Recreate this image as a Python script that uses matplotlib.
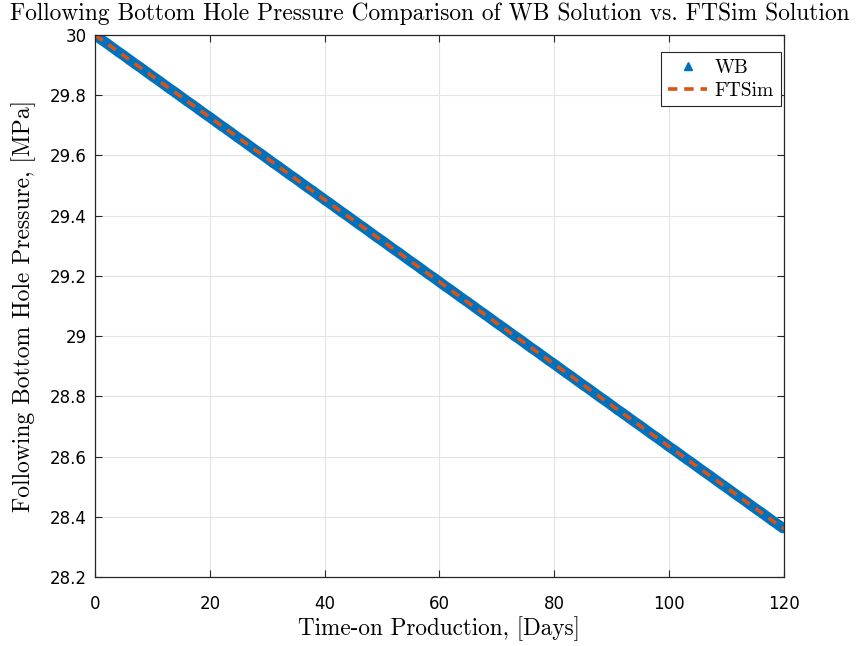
import numpy as np
import matplotlib.pyplot as plt

### Daten
days = list(range(0, 121))
p_wb = [30.000, 29.986, 29.973, 29.959, 29.945, 29.932, 29.918, 29.904, 29.891, 29.877,
        29.863, 29.850, 29.836, 29.822, 29.809, 29.795, 29.781, 29.768, 29.754, 29.740,
        29.727, 29.713, 29.699, 29.686, 29.672, 29.658, 29.645, 29.631, 29.617, 29.604,
        29.590, 29.576, 29.563, 29.549, 29.535, 29.522, 29.508, 29.494, 29.481, 29.467,
        29.453, 29.440, 29.426, 29.412, 29.399, 29.385, 29.371, 29.358, 29.344, 29.330,
        29.317, 29.303, 29.289, 29.276, 29.262, 29.248, 29.235, 29.221, 29.207, 29.194,
        29.180, 29.166, 29.153, 29.139, 29.125, 29.112, 29.098, 29.084, 29.071, 29.057,
        29.043, 29.030, 29.016, 29.002, 28.989, 28.975, 28.961, 28.948, 28.934, 28.920,
        28.907, 28.893, 28.879, 28.866, 28.852, 28.838, 28.825, 28.811, 28.797, 28.784,
        28.770, 28.756, 28.743, 28.729, 28.715, 28.702, 28.688, 28.674, 28.661, 28.647,
        28.633, 28.620, 28.606, 28.592, 28.579, 28.565, 28.551, 28.538, 28.524, 28.510,
        28.497, 28.483, 28.469, 28.456, 28.442, 28.428, 28.415, 28.401, 28.387, 28.374,
        28.360]

days_ft = [0, 10, 20, 30, 40, 50, 60, 70, 80, 90, 100, 110, 120]
p_ft = [30.000, 29.863, 29.727, 29.590, 29.453, 29.317, 29.180, 29.043, 28.907, 28.770,
        28.633, 28.497, 28.360]

xticks = [0, 20, 40, 60, 80, 100, 120]
yticks = [28.2, 28.4, 28.6, 28.8, 29, 29.2, 29.4, 29.6, 29.8, 30]
ytick_labels = ['28.2', '28.4', '28.6', '28.8', '29', '29.2', '29.4', '29.6', '29.8', '30']

blue = '#0072BD'
orange = '#D95319'
serif = 'cmr10'

### Plot
fig = plt.figure(figsize=(8.59, 6.46), dpi=100)
ax = fig.add_axes([0.1106, 0.1068, 0.802, 0.839])

# dichte WB-Marker verschmelzen zu einem Band
ax.plot(days, p_wb, linestyle='-', linewidth=7.5, color=blue, solid_capstyle='butt',
        label='_nolegend_')
ax.plot(days, p_wb, linestyle='none', marker='^', markersize=4.5, color=blue,
        markeredgecolor=blue, label='WB')
ax.plot(days_ft, p_ft, linestyle='--', dashes=(2.6, 1.9), linewidth=2.6, color=orange,
        label='FTSim')

ax.set_xlim(0, 120)
ax.set_ylim(28.2, 30)
ax.set_xticks(xticks)
ax.set_yticks(yticks)
ax.set_yticklabels(ytick_labels)
ax.tick_params(direction='in', top=True, right=True, labelsize=12, length=5, color='#262626')
ax.tick_params(axis='x', pad=13)
ax.tick_params(axis='y', pad=6)
for lbl in ax.get_xticklabels() + ax.get_yticklabels():
    lbl.set_family('DejaVu Sans')
ax.grid(True, color='#e3e3e3', linewidth=0.8)
ax.set_axisbelow(True)
for s in ax.spines.values():
    s.set_color('#262626')
    s.set_linewidth(0.9)

ax.set_xlabel('Time-on Production, [Days]', family=serif, fontsize=16.7, labelpad=2)
ax.set_ylabel('Following Bottom Hole Pressure, [MPa]', family=serif, fontsize=17, labelpad=10)
ax.set_title('Following Bottom Hole Pressure Comparison of WB Solution vs. FTSim Solution',
             family=serif, fontsize=16.9, pad=11, x=0.486)

leg = ax.legend(loc='upper right', bbox_to_anchor=(0.9956, 0.9686), borderaxespad=0,
                prop={'family': serif, 'size': 14}, fancybox=False, edgecolor='#262626',
                framealpha=1, handlelength=2.0, handletextpad=0.4, borderpad=0.35,
                labelspacing=0.25, markerscale=1.3)
leg.get_frame().set_linewidth(0.8)

fig.savefig('out.png', dpi=100)
